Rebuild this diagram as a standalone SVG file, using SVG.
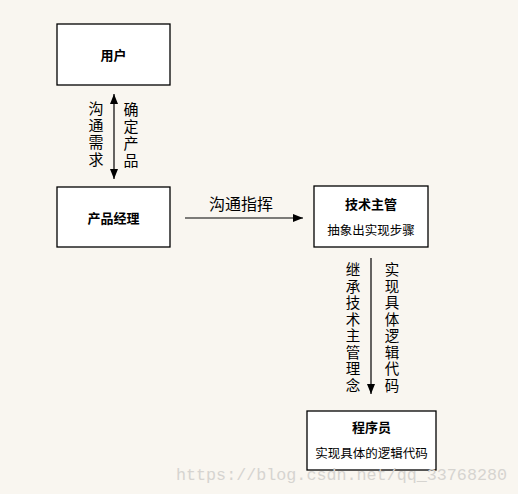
<svg xmlns="http://www.w3.org/2000/svg" width="518" height="494" viewBox="0 0 518 494">
<style>
.bg{fill:#f9f6f0}
.box{fill:#ffffff;stroke:#000000;stroke-width:1.3}
.t{font-family:"Noto Sans CJK SC","Liberation Sans",sans-serif;fill:#000000;text-anchor:middle;dominant-baseline:central}
.title{font-size:13px;font-weight:bold}
.sub{font-size:12.5px}
.lab{font-size:16px}
.v{font-family:"Noto Sans CJK SC","Liberation Sans",sans-serif;fill:#000000;writing-mode:vertical-rl;text-anchor:start;letter-spacing:2px}
.v4{font-size:15px}
.v8{font-size:14.5px}
.line{stroke:#000000;stroke-width:1.2;fill:none}
.wm{font-family:"Liberation Mono",monospace;font-size:17px;fill:#d6d4d0}
</style>
<defs>
<marker id="ah" viewBox="0 0 10 8" refX="10" refY="4" markerWidth="10" markerHeight="8" markerUnits="userSpaceOnUse" orient="auto-start-reverse">
<path d="M0,0 L10,4 L0,8 Z" fill="#000000"/>
</marker>
</defs>
<rect class="bg" x="0" y="0" width="518" height="494"/>
<g id="connectors">
<line class="line" x1="114" y1="94" x2="114" y2="179" marker-start="url(#ah)" marker-end="url(#ah)"/>
<line class="line" x1="185" y1="218" x2="303" y2="218" marker-end="url(#ah)"/>
<line class="line" x1="371" y1="258" x2="371" y2="394" marker-end="url(#ah)"/>
<text class="v v4" x="96" y="100.5">沟通需求</text>
<text class="v v4" x="131" y="101.5">确定产品</text>
<text class="t lab" x="241" y="203">沟通指挥</text>
<text class="v v8" x="353" y="262.5">继承技术主管理念</text>
<text class="v v8" x="392" y="262.5">实现具体逻辑代码</text>
</g>
<g id="node-user">
<rect class="box" x="57" y="24" width="113" height="61"/>
<text class="t title" x="113.5" y="54.5">用户</text>
</g>
<g id="node-pm">
<rect class="box" x="57" y="187" width="113" height="60"/>
<text class="t title" x="113.5" y="217">产品经理</text>
</g>
<g id="node-tech">
<rect class="box" x="314" y="186" width="114" height="61"/>
<text class="t title" x="371" y="203">技术主管</text>
<text class="t sub" x="371" y="229">抽象出实现步骤</text>
</g>
<g id="node-dev">
<rect class="box" x="307" y="411" width="129" height="59"/>
<text class="t title" x="371.5" y="426">程序员</text>
<text class="t sub" x="371.5" y="452">实现具体的逻辑代码</text>
</g>
<text class="wm" x="176" y="480" textLength="331" lengthAdjust="spacingAndGlyphs">https://blog.csdn.net/qq_33768280</text>
</svg>
